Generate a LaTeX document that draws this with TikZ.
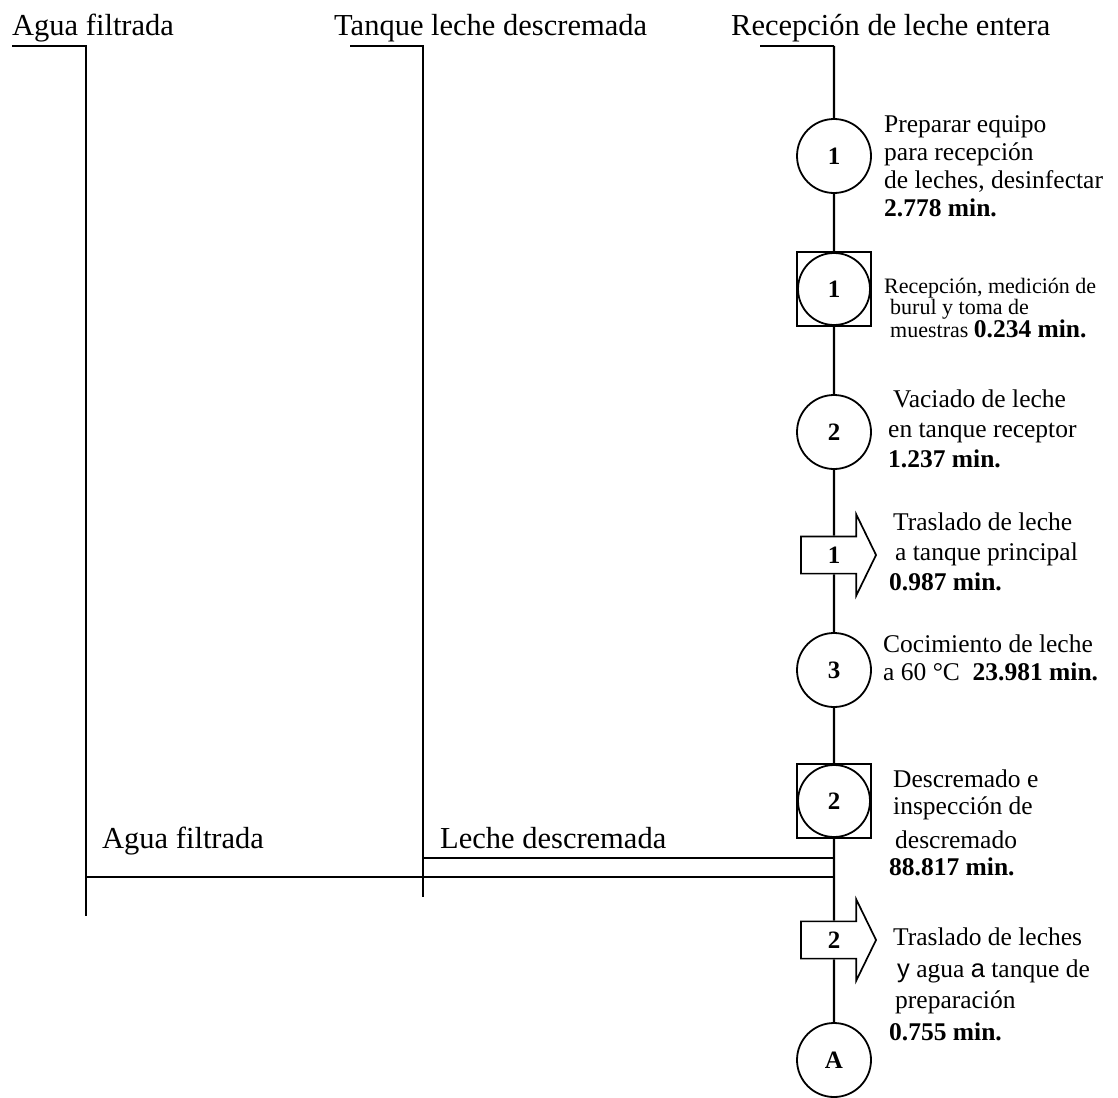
\documentclass[tikz,border=0pt]{standalone}
\usepackage{fontspec}
\setmainfont{Liberation Serif}
\newfontfamily\arialf{Liberation Sans}
\usetikzlibrary{positioning,shapes.arrows}

\tikzset{
  flow/.style={line width=2.1pt},
  oper/.style={circle, draw, line width=1.8pt, minimum size=74pt, inner sep=0pt,
    font=\fontsize{25}{25}\selectfont\bfseries},
  combo/.style={rectangle, draw, line width=1.4pt, minimum size=74pt, inner sep=0pt,
    font=\fontsize{25}{25}\selectfont\bfseries,
    path picture={\draw[line width=1.8pt] (path picture bounding box.center) circle (36pt);}},
  transp/.style={single arrow, draw, line width=1.7pt, minimum height=75pt,
    single arrow head extend=22pt, single arrow tip angle=128, inner xsep=4pt, inner ysep=9.5pt,
    font=\fontsize{25}{25}\selectfont\bfseries},
  desc/.style={align=left, anchor=north west, inner sep=0pt, font=\fontsize{25.5}{28}\selectfont},
  head/.style={anchor=base west, inner sep=0pt, font=\fontsize{30.5}{32}\selectfont},
}

\begin{document}
\begin{tikzpicture}[x=1pt, y=-1pt]
  \useasboundingbox (0,0) rectangle (1118,1097);

  % column headers
  \node[head] (hagua) at (12,36) {Agua filtrada};
  \node[head] (htanque) at (334,36) {Tanque leche descremada};
  \node[head] (hrecep) at (731,36) {Recepción de leche entera};

  % feed lines
  \coordinate (a0) at (12,46);
  \coordinate (a1) at (86,46);
  \coordinate (a2) at (86,916);
  \coordinate (b0) at (350,46);
  \coordinate (b1) at (423,46);
  \coordinate (b2) at (423,897);
  \coordinate (r0) at (760,46);
  \coordinate (r1) at (834,46);
  \coordinate (ja) at (86,877);
  \coordinate (jb) at (423,858);
  \coordinate (ma) at (834,877);
  \coordinate (mb) at (834,858);

  \draw[flow] (a0) -- (a1) -- (a2);
  \draw[flow] (b0) -- (b1) -- (b2);
  \draw[flow] (r0) -- (r1);
  \draw[flow] (ja) -- (ma);
  \draw[flow] (jb) -- (mb);

  \node[head] (lagua) at (102,848) {Agua filtrada};
  \node[head] (lleche) at (440,848) {Leche descremada};

  % main process
  \node[oper] (o1) at (834,156) {1};
  \node[combo] (i1) at (834,289) {1};
  \node[oper] (o2) at (834,432) {2};
  \node[transp] (t1) at (834,555) {1};
  \node[oper] (o3) at (834,670) {3};
  \node[combo] (i2) at (834,801) {2};
  \node[transp] (t2) at (834,940) {2};
  \node[oper] (ca) at (834,1060) {A};

  \draw[flow] (r1) -- (o1) -- (i1) -- (o2) -- (t1) -- (o3) -- (i2) -- (t2) -- (ca);

  % descriptions
  \node[desc] (d1) at (884,115) {Preparar equipo\\para recepción\\de leches, desinfectar\\\textbf{2.778 min.}};
  \node[desc, font=\fontsize{22}{21}\selectfont] (d2) at (884,278) {Recepción, medición de\\\hspace*{6pt}burul y toma de\\\hspace*{6pt}muestras {\fontsize{25.5}{21}\selectfont\textbf{0.234 min.}}};
  \node[desc, font=\fontsize{25.5}{30}\selectfont] (d3) at (888,390) {\hspace*{5pt}Vaciado de leche\\en tanque receptor\\\textbf{1.237 min.}};
  \node[desc, font=\fontsize{25.5}{30}\selectfont] (d4) at (889,513) {\hspace*{4pt}Traslado de leche\\\hspace*{6pt}a tanque principal\\\textbf{0.987 min.}};
  \node[desc] (d5) at (883,635) {Cocimiento de leche\\a 60 °C\ \ \textbf{23.981 min.}};
  \node[desc, font=\fontsize{25.5}{27}\selectfont] (d6) at (889,770) {\hspace*{4pt}Descremado e\\\hspace*{4pt}inspección de\\[7pt]\hspace*{6pt}descremado\\\textbf{88.817 min.}};
  \node[desc, font=\fontsize{25.5}{31.5}\selectfont] (d7) at (889,928) {\hspace*{4pt}Traslado de leches\\\hspace*{8pt}{\arialf y} agua {\arialf a} tanque de\\\hspace*{6pt}preparación\\\textbf{0.755 min.}};
\end{tikzpicture}
\end{document}
